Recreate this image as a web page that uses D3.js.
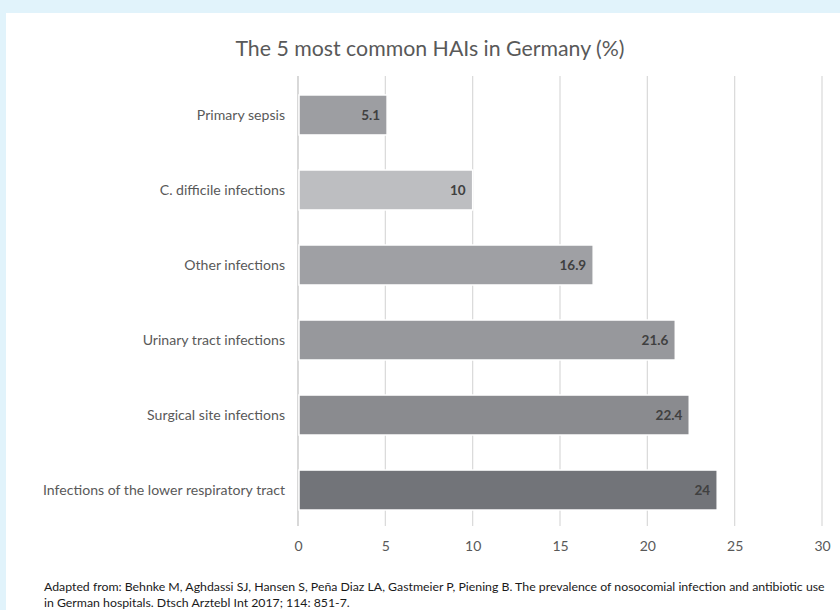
<!DOCTYPE html>
<html>
<head>
<meta charset="utf-8">
<script src="https://cdn.jsdelivr.net/npm/d3@7"></script>
<style>
  body { margin: 0; background: #e1f3fb; }
  svg { display: block; font-family: Lato, "Open Sans", sans-serif; }
</style>
</head>
<body>
<div id="chart"></div>
<script>
    var categories = ["Primary sepsis", "C. difficile infections", "Other infections",
      "Urinary tract infections", "Surgical site infections", "Infections of the lower respiratory tract"];
    var values = [5.1, 10, 16.9, 21.6, 22.4, 24];
    var barColors = ["#9d9ea2", "#bdbec1", "#9fa0a4", "#97989c", "#8a8b8f", "#727479"];
    var xTicks = [0, 5, 10, 15, 20, 25, 30];

    var title = "The 5 most common HAIs in Germany (%)";
    var source = ["Adapted from: Behnke M, Aghdassi SJ, Hansen S, Peña Diaz LA, Gastmeier P, Piening B. The prevalence of nosocomial infection and antibiotic use",
      "in German hospitals. Dtsch Arztebl Int 2017; 114: 851-7."];

    var width = 840,
        height = 610;

    var svg = d3.select("#chart").append("svg")
      .attr("width", width)
      .attr("height", height);

    // white panel
    svg.append("rect")
      .attr("x", 6).attr("y", 13)
      .attr("width", width).attr("height", height)
      .attr("fill", "#fff");

    var x = d3.scaleLinear().domain([0, 30]).range([298, 822]);
    var y = d3.scaleBand()
      .domain(categories)
      .range([77.5, 527.5])
      .paddingInner(0.467)
      .paddingOuter(0.233);

    svg.append("text")
      .attr("x", 430).attr("y", 56)
      .attr("text-anchor", "middle")
      .attr("font-size", 21.3)
      .attr("fill", "#595959")
      .text(title);

    // gridlines
    svg.append("g").selectAll("line")
      .data(xTicks)
      .enter().append("line")
      .attr("x1", function(d) { return x(d); })
      .attr("x2", function(d) { return x(d); })
      .attr("y1", 76).attr("y2", 526)
      .attr("stroke", function(d) { return d === 0 ? "#bfbfbf" : "#d9d9d9"; })
      .attr("stroke-width", 1.2);

    var xAxis = svg.append("g")
      .attr("transform", "translate(0,526)")
      .call(d3.axisBottom(x).tickValues(xTicks).tickSize(0).tickPadding(15));
    xAxis.select(".domain").remove();
    xAxis.selectAll("text")
      .attr("font-family", "Lato, sans-serif")
      .attr("font-size", 14)
      .attr("fill", "#595959");

    var bars = svg.append("g").selectAll("g")
      .data(values)
      .enter().append("g");

    bars.append("rect")
      .attr("x", x(0) + 1)
      .attr("y", function(d, i) { return y(categories[i]); })
      .attr("width", function(d) { return x(d) - x(0) - 1; })
      .attr("height", y.bandwidth())
      .attr("fill", function(d, i) { return barColors[i]; })
      .attr("stroke", "#fff")
      .attr("stroke-width", 1.5);

    bars.append("text")
      .attr("x", function(d) { return x(d) - 7; })
      .attr("y", function(d, i) { return y(categories[i]) + y.bandwidth() / 2; })
      .attr("dy", "0.35em")
      .attr("text-anchor", "end")
      .attr("font-size", 13.5)
      .attr("font-weight", "bold")
      .attr("fill", "#404040")
      .text(function(d) { return d; });

    svg.append("g").selectAll("text")
      .data(categories)
      .enter().append("text")
      .attr("x", 285)
      .attr("y", function(d) { return y(d) + y.bandwidth() / 2; })
      .attr("dy", "0.35em")
      .attr("text-anchor", "end")
      .attr("font-size", 14.1)
      .attr("fill", "#595959")
      .text(function(d) { return d; });

    svg.append("g").selectAll("text")
      .data(source)
      .enter().append("text")
      .attr("x", 44)
      .attr("y", function(d, i) { return 591 + i * 16; })
      .attr("font-size", 12.3)
      .attr("fill", "#1a1a1a")
      .text(function(d) { return d; });
</script>
</body>
</html>
